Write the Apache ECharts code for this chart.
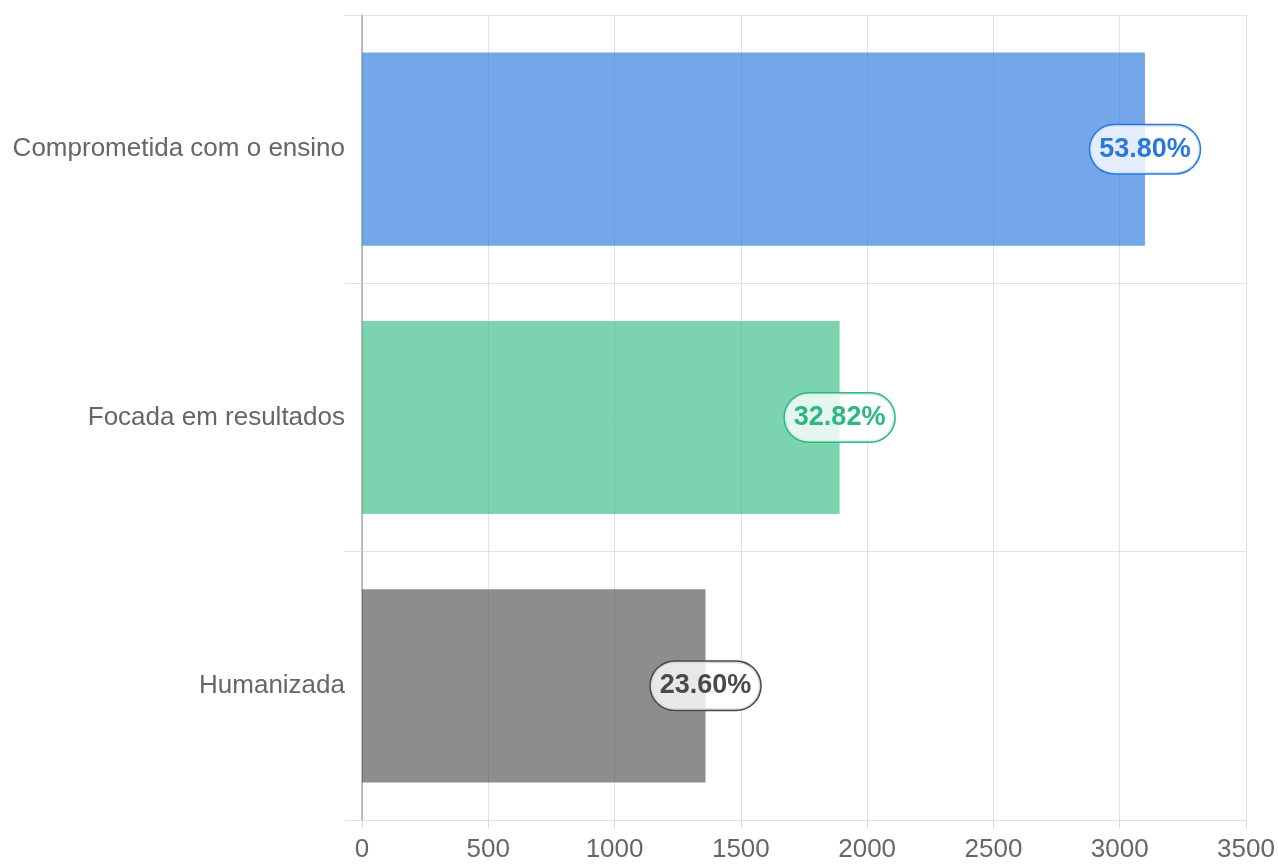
<!DOCTYPE html>
<html>
<head>
<meta charset="utf-8">
<script src="https://cdn.jsdelivr.net/npm/echarts@6/dist/echarts.min.js"></script>
<style>html,body{margin:0;padding:0;background:#fff;}#c{width:1278px;height:865px;}</style>
</head>
<body>
<div id="c"></div>
<script>
var categories = ['Comprometida com o ensino', 'Focada em resultados', 'Humanizada'];
var values = [3100, 1891, 1360];
var percents = ['53.80%', '32.82%', '23.60%'];
var colors = ['#2878de', '#2cb87f', '#4a4a4a'];
var barColors = ['rgba(40,120,222,0.65)', 'rgba(44,184,127,0.62)', 'rgba(74,74,74,0.63)'];

var chart = echarts.init(document.getElementById('c'));
var data = values.map(function (v, i) {
  return {
    value: v,
    itemStyle: { color: barColors[i] },
    label: {
      color: colors[i],
      borderColor: colors[i],
      formatter: percents[i]
    }
  };
});
var font = 'Liberation Sans, Arial, sans-serif';
chart.setOption({
  animation: false,
  grid: { left: 362, right: 32, top: 15, bottom: 45, containLabel: false },
  xAxis: {
    type: 'value', min: 0, max: 3500, interval: 500,
    axisLine: { show: true, lineStyle: { color: '#e0e0e0' } },
    axisTick: { show: true, length: 8, lineStyle: { color: '#dadada' } },
    splitLine: { show: true, lineStyle: { color: '#e2e2e2' } },
    axisLabel: { color: '#666', fontSize: 26, margin: 17, fontFamily: font, formatter: function (v) { return String(v); } }
  },
  yAxis: {
    type: 'category', inverse: true, data: categories,
    axisLine: { show: true, lineStyle: { color: '#aaaaaa', width: 1.5 } },
    axisTick: { show: true, length: 17, lineStyle: { color: '#e0e0e0' } },
    splitLine: { show: true, lineStyle: { color: '#e2e2e2' } },
    axisLabel: { color: '#666', fontSize: 26, margin: 17, fontFamily: font, padding: [5, 0, 0, 0] }
  },
  series: [{
    type: 'bar',
    data: data,
    barCategoryGap: '28%',
    label: {
      show: true,
      position: ['100%', '50%'],
      align: 'center',
      verticalAlign: 'middle',
      fontSize: 27,
      fontWeight: 'bold',
      fontFamily: font,
      backgroundColor: 'rgba(255,255,255,0.8)',
      borderWidth: 1.5,
      borderRadius: 25,
      padding: [11, 9, 10, 9]
    }
  }]
});
</script>
</body>
</html>
